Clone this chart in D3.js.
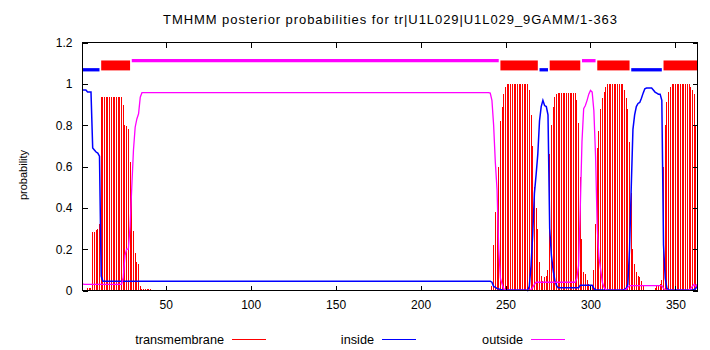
<!DOCTYPE html>
<html>
<head>
<meta charset="utf-8">
<script src="https://cdn.jsdelivr.net/npm/d3@7"></script>
<style>
body { margin: 0; background: #fff; }
svg text { font-family: "Liberation Sans", Arial, sans-serif; }
</style>
</head>
<body>
<svg id="chart" width="710" height="350"></svg>
<script>
const title = "TMHMM posterior probabilities for tr|U1L029|U1L029_9GAMM/1-363";
const seqLength = 363;
const xTicks = [50, 100, 150, 200, 250, 300, 350];
const yTicks = [0, 0.2, 0.4, 0.6, 0.8, 1, 1.2];
const yTickLabels = ["0", "0.2", "0.4", "0.6", "0.8", "1", "1.2"];
const legendNames = ["transmembrane", "inside", "outside"];

// predicted topology [start, end, kind]
const topology = [
    [1, 11, "inside"], [12, 29, "tm"], [30, 246, "outside"], [247, 269, "tm"],
    [270, 275, "inside"], [276, 294, "tm"], [295, 303, "outside"], [304, 323, "tm"],
    [324, 342, "inside"], [343, 363, "tm"]
];

// transmembrane posterior [residue, p] (residues not listed are 0)
const tmProb = [
    [4,0.01],[5,0.013],[6,0.01],[7,0.285],[8,0.285],[9,0.295],[10,0.3],[11,0.32],
    [12,0.935],[13,0.935],[14,0.935],[15,0.935],[16,0.935],[17,0.935],[18,0.935],[19,0.935],
    [20,0.935],[21,0.935],[22,0.935],[23,0.935],[24,0.935],
    [25,0.9],[26,0.8],[27,0.795],[28,0.78],[29,0.62],[30,0.46],[31,0.29],[32,0.18],[33,0.137],[34,0.126],[35,0.02],
    [36,0.005],[37,0.005],[38,0.005],[39,0.005],[40,0.005],[41,0.005],
    [68,0.004],[69,0.004],[70,0.004],[71,0.004],[72,0.004],[73,0.004],[74,0.004],[75,0.004],[76,0.004],
    [77,0.004],[78,0.004],[79,0.004],[80,0.004],[81,0.004],[82,0.004],[83,0.004],[84,0.004],[85,0.004],
    [86,0.004],[87,0.004],[88,0.004],[89,0.004],[90,0.004],[91,0.004],[92,0.004],[93,0.004],[94,0.004],
    [241,0.003],[242,0.02],[243,0.22],[244,0.38],[245,0.43],[246,0.6],[247,0.82],[248,0.89],[249,0.95],[250,0.985],
    [251,1],[252,1],[253,1],[254,1],[255,1],[256,1],[257,1],[258,1],[259,1],[260,1],[261,1],[262,1],[263,1],
    [264,0.97],[265,0.85],[266,0.7],[267,0.5],[268,0.4],[269,0.3],[270,0.14],[271,0.07],[272,0.045],[273,0.065],[274,0.07],[275,0.1],
    [276,0.66],[277,0.8],[278,0.89],[279,0.935],[280,0.95],
    [281,0.955],[282,0.955],[283,0.955],[284,0.955],[285,0.955],[286,0.955],[287,0.955],[288,0.955],[289,0.955],[290,0.955],[291,0.955],
    [292,0.92],[293,0.81],[294,0.55],[295,0.25],[296,0.09],[297,0.08],[298,0.05],[299,0.03],[300,0.01],[301,0.02],[302,0.1],[303,0.32],
    [304,0.69],[305,0.77],[306,0.88],[307,0.93],[308,0.96],[309,0.985],
    [310,1],[311,1],[312,1],[313,1],[314,1],[315,1],[316,1],[317,1],[318,1],[319,1],
    [320,0.97],[321,0.93],[322,0.88],[323,0.72],[324,0.47],[325,0.2],[326,0.13],[327,0.09],[328,0.07],[329,0.065],[330,0.045],[331,0.02],
    [338,0.01],[339,0.02],[340,0.02],[341,0.03],[342,0.05],
    [343,0.6],[344,0.8],[345,0.91],[346,0.96],[347,0.985],
    [348,1],[349,1],[350,1],[351,1],[352,1],[353,1],[354,1],[355,1],[356,1],[357,1],[358,1],
    [359,0.985],[360,0.97],[361,0.95],[362,0.8],[363,0.6]
];

// inside posterior, line vertices [residue, p]
const insideProb = [
    [1,0.97],[3,0.97],[4,0.96],[6,0.96],[7,0.69],[8,0.68],[9,0.67],[10,0.665],[11,0.65],[12,0.07],[13,0.045],
    [241,0.045],[242,0.04],[243,0.02],[244,0.015],[245,0.01],[246,0.008],[247,0.005],[248,0.003],[262,0.003],
    [263,0],[264,0.02],[265,0.12],[266,0.27],[267,0.47],[268,0.56],[269,0.66],[270,0.82],[271,0.89],[272,0.92],
    [273,0.895],[274,0.89],[275,0.85],[276,0.3],[277,0.17],[278,0.1],[279,0.05],[280,0.025],[281,0.013],[293,0.013],
    [294,0.025],[301,0.025],[302,0.01],[303,0.003],[319,0.003],[320,0.005],[321,0.01],[322,0.03],[323,0.2],[324,0.5],
    [325,0.78],[326,0.85],[327,0.89],[328,0.905],[329,0.91],[330,0.93],[331,0.955],[332,0.976],[333,0.98],[336,0.98],
    [337,0.97],[338,0.96],[339,0.955],[340,0.95],[341,0.95],[342,0.92],[343,0.22],[344,0.06],[345,0.01],[346,0.003],
    [360,0.003],[361,0.005],[362,0.01],[363,0.03]
];

// outside posterior, line vertices [residue, p]
const outsideProb = [
    [1,0.032],[2,0.03],[24,0.03],[25,0.064],[26,0.17],[27,0.2],[28,0.2],[29,0.31],[30,0.5],[31,0.68],
    [32,0.79],[33,0.83],[34,0.855],[35,0.935],[36,0.957],[240,0.957],[241,0.955],[242,0.92],[243,0.8],[244,0.62],
    [245,0.49],[246,0.2],[247,0.06],[248,0.03],[249,0.008],[250,0.001],[264,0.001],[265,0.005],[266,0.015],[267,0.03],
    [268,0.04],[291,0.04],[292,0.06],[293,0.12],[294,0.4],[295,0.72],[296,0.88],[297,0.895],[298,0.92],[299,0.95],
    [300,0.968],[301,0.96],[302,0.87],[303,0.65],[304,0.3],[305,0.16],[306,0.1],[307,0.04],[308,0.015],[309,0.005],
    [310,0.001],[320,0.001],[321,0.005],[322,0.015],[323,0.024],[342,0.024],[343,0.01],[344,0.003],[345,0.001],[358,0.001],
    [359,0.01],[360,0.02],[361,0.03],[362,0.02],[363,0.03]
];

const colors = { tm: "#ff0000", inside: "#0000ff", outside: "#ff00ff" };
const bandY = { inside: 1.068, outside: 1.112 };

const svg = d3.select("#chart");
const x = d3.scaleLinear().domain([1, seqLength]).range([82.5, 697.5]);
const y = d3.scaleLinear().domain([0, 1.2]).range([290.5, 42.5]);

// impulses
svg.append("g")
    .selectAll("line")
    .data(tmProb)
    .enter()
    .append("line")
    .attr("x1", d => x(d[0]))
    .attr("x2", d => x(d[0]))
    .attr("y1", y(0))
    .attr("y2", d => y(d[1]))
    .attr("stroke", colors.tm)
    .attr("stroke-width", 1)
    .attr("shape-rendering", "crispEdges");

let lineFun = d3.line()
    .x(d => x(d[0]))
    .y(d => y(d[1]));

svg.append("path")
    .attr("d", lineFun(insideProb))
    .attr("fill", "none")
    .attr("stroke", colors.inside)
    .attr("stroke-width", 1.5);

svg.append("path")
    .attr("d", lineFun(outsideProb))
    .attr("fill", "none")
    .attr("stroke", colors.outside)
    .attr("stroke-width", 1.3);

// topology bands
topology.forEach(seg => {
    let [s, e, kind] = seg;
    if (kind === "tm") {
        svg.append("rect")
            .attr("x", x(s))
            .attr("width", x(e) - x(s))
            .attr("y", y(1.113))
            .attr("height", y(1.065) - y(1.113))
            .attr("fill", colors.tm);
    } else {
        svg.append("line")
            .attr("x1", x(s))
            .attr("x2", x(e))
            .attr("y1", y(bandY[kind]))
            .attr("y2", y(bandY[kind]))
            .attr("stroke", colors[kind])
            .attr("stroke-width", 3.3);
    }
});

// axes with inward ticks, mirrored
let axisStyle = g => {
    g.select(".domain").remove();
    g.selectAll("line").attr("stroke", "#000").attr("shape-rendering", "crispEdges");
    g.selectAll("text").attr("fill", "#000").attr("font-size", "12px").attr("font-family", "DejaVu Sans, sans-serif");
};
svg.append("g").attr("transform", "translate(0,290.5)")
    .call(d3.axisBottom(x).tickValues(xTicks).tickSize(-5).tickPadding(10))
    .call(axisStyle);
svg.append("g").attr("transform", "translate(0,42.5)")
    .call(d3.axisTop(x).tickValues(xTicks).tickSize(-5).tickFormat(""))
    .call(axisStyle);
svg.append("g").attr("transform", "translate(82.5,0)")
    .call(d3.axisLeft(y).tickValues(yTicks).tickSize(-5).tickPadding(10).tickFormat((d, i) => yTickLabels[i]))
    .call(axisStyle);
svg.append("g").attr("transform", "translate(697.5,0)")
    .call(d3.axisRight(y).tickValues(yTicks).tickSize(-5).tickFormat(""))
    .call(axisStyle);

svg.append("rect")
    .attr("x", 82.5).attr("y", 42.5)
    .attr("width", 615).attr("height", 248)
    .attr("fill", "none")
    .attr("stroke", "#000")
    .attr("shape-rendering", "crispEdges");

svg.append("text")
    .text(title)
    .attr("x", 163)
    .attr("y", 24)
    .attr("textLength", 454)
    .attr("lengthAdjust", "spacing")
    .attr("font-size", "13px");

svg.append("text")
    .text("probability")
    .attr("transform", "translate(27,175) rotate(-90)")
    .attr("text-anchor", "middle")
    .attr("font-size", "11px");

// legend
let legendColors = [colors.tm, colors.inside, colors.outside];
let legendRight = [224, 374, 523];
legendNames.forEach((name, i) => {
    svg.append("text")
        .text(name)
        .attr("x", legendRight[i])
        .attr("y", 344)
        .attr("text-anchor", "end")
        .attr("font-size", "12.7px");
    svg.append("line")
        .attr("x1", legendRight[i] + 8)
        .attr("x2", legendRight[i] + 42)
        .attr("y1", 339.5)
        .attr("y2", 339.5)
        .attr("stroke", legendColors[i])
        .attr("stroke-width", 1);
});
</script>
</body>
</html>
